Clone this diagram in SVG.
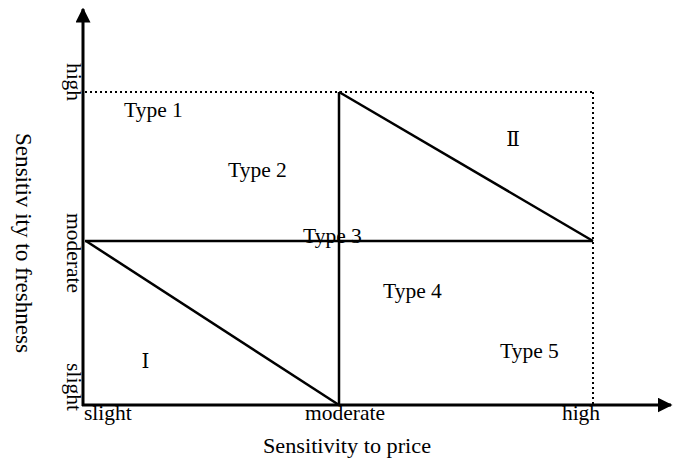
<svg xmlns="http://www.w3.org/2000/svg" width="673" height="461" viewBox="0 0 673 461">
<style>
text{font-family:"Liberation Serif","Times New Roman",serif;font-size:21.5px;fill:#000}
.rn{font-family:"DejaVu Serif","Liberation Serif",serif;font-size:20px}
.ax{stroke:#000;stroke-width:3;fill:none}
.ln{stroke:#000;stroke-width:2.5;fill:none}
.dot{stroke:#000;stroke-width:2;stroke-dasharray:2 3;fill:none}
</style>
<defs>
<marker id="ah" markerWidth="5" markerHeight="5" refX="4.5" refY="2.5" orient="auto" markerUnits="strokeWidth"><path d="M0,0 L5,2.5 L0,5 Z" fill="#000"/></marker>
</defs>
<g id="connectors">
<line class="ax" x1="83" y1="406" x2="83" y2="9" marker-end="url(#ah)"/>
<line class="ax" x1="82" y1="405" x2="671" y2="405" marker-end="url(#ah)"/>
<line class="dot" x1="85" y1="92" x2="593" y2="92"/>
<line class="dot" x1="593" y1="92" x2="593" y2="404"/>
<line class="ln" x1="339" y1="92" x2="339" y2="405"/>
<line class="ln" x1="85" y1="241" x2="593" y2="241"/>
<line class="ln" x1="86" y1="241" x2="339" y2="405"/>
<line class="ln" x1="339" y1="92" x2="593" y2="241"/>
</g>
<g id="y-labels">
<text transform="translate(67,82) rotate(90)" text-anchor="middle">high</text>
<text transform="translate(67,253) rotate(90)" text-anchor="middle">moderate</text>
<text transform="translate(67,387) rotate(90)" text-anchor="middle">slight</text>
<text transform="translate(16,243) rotate(90)" text-anchor="middle" textLength="220" lengthAdjust="spacingAndGlyphs" style="font-size:22.5px">Sensitiv ity to freshness</text>
</g>
<g id="x-labels">
<text x="84" y="420">slight</text>
<text x="345" y="420" text-anchor="middle">moderate</text>
<text x="581" y="420" text-anchor="middle">high</text>
<text x="347" y="453" text-anchor="middle" textLength="168" lengthAdjust="spacingAndGlyphs" style="font-size:22px">Sensitivity to price</text>
</g>
<g id="type1"><text x="124" y="117">Type 1</text></g>
<g id="type2"><text x="228" y="177">Type 2</text></g>
<g id="type3"><text x="303" y="243">Type 3</text></g>
<g id="type4"><text x="383" y="298">Type 4</text></g>
<g id="type5"><text x="500" y="358">Type 5</text></g>
<g id="regionI"><text class="rn" x="145.5" y="368" text-anchor="middle">Ⅰ</text></g>
<g id="regionII"><text class="rn" x="513" y="146" text-anchor="middle">Ⅱ</text></g>
</svg>
